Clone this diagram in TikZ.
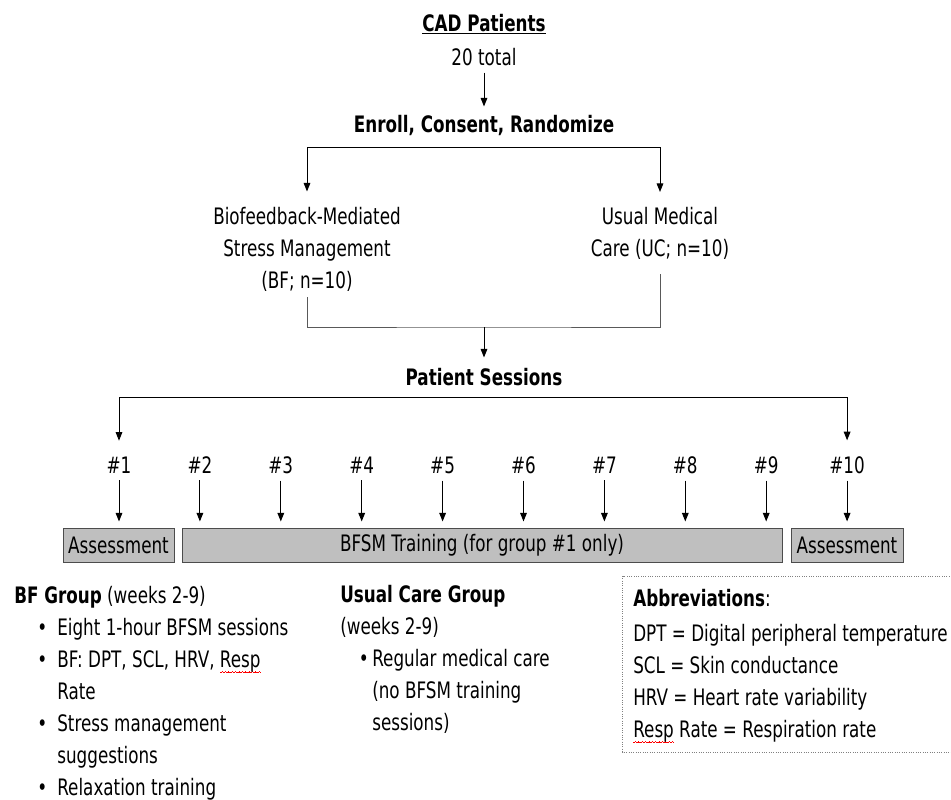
\documentclass[tikz,border=0pt]{standalone}
\usepackage{fontspec}
\setmainfont{DejaVu Sans}[FakeStretch=0.74]
\usetikzlibrary{arrows.meta}

% red wavy underline of the spell checker
\newlength\wavelen
\newcommand{\wavepiece}{\hbox{\rule[-1pt]{0.6pt}{0.5pt}\rule[-0.5pt]{0.6pt}{0.5pt}\rule[0pt]{0.6pt}{0.5pt}\rule[-0.5pt]{0.6pt}{0.5pt}}}
\newcommand{\spellwave}[1]{\settowidth{\wavelen}{#1}\rlap{\raisebox{-3.5pt}{\textcolor{red}{\hbox to\wavelen{\xleaders\wavepiece\hfill}}}}#1}
% bullet: #1 space before the dot, #2 width of the dot box
\newcommand{\bul}[2]{\hspace*{#1}\makebox[#2][l]{\textbullet}}

\begin{document}
\begin{tikzpicture}[x=0.75pt, y=-0.75pt,
  txt/.style={inner sep=0pt, font=\fontsize{17}{24}\selectfont},
  hd/.style={txt, font=\fontsize{17}{24}\selectfont\bfseries},
  arr/.style={line width=0.75pt, -{Triangle[length=6.5pt,width=5pt]}},
  link/.style={line width=0.75pt, draw=black!65},
  gbox/.style={txt, draw=black!70, fill=black!25, line width=0.75pt, minimum height=25.5pt},
  sess/.style={txt, inner ysep=5.25pt}]
\useasboundingbox (0,0) rectangle (951,800);

% top of the flow
\node[hd, anchor=base] (cad) at (484,31) {\underline{CAD Patients}};
\node[txt, anchor=base] (total) at (484,65) {20 total};
\node[hd, anchor=base] (enroll) at (484,132) {Enroll, Consent, Randomize};
\draw[arr, shorten <=5.25pt, shorten >=6pt] (total) -- (enroll);

% the two groups (base = last line)
\node[txt, anchor=base, align=center] (bf) at (307,288)
  {Biofeedback-Mediated\\Stress Management\\(BF; n=10)};
\node[txt, anchor=base, align=center] (uc) at (660,256.5)
  {Usual Medical\\Care (UC; n=10)};
\coordinate (split) at (484,147);
\draw[arr, shorten >=11.25pt] (split) -| (bf);
\draw[arr, shorten >=11.25pt] (split) -| (uc);

\node[hd, anchor=base] (sessions) at (484,385) {Patient Sessions};
\coordinate (merge) at (484,327);
\draw[link, shorten <=4.5pt, shorten >=10.9pt] (bf) |- (merge) -| (uc);
\draw[arr, shorten >=7.5pt] (merge) -- (sessions);

% sessions
\foreach \i in {1,...,10} {
  \pgfmathsetmacro\sx{119+(\i-1)*80.9}
  \node[sess, anchor=base] (s\i) at (\sx,473) {\#\i};
}
\coordinate (split2) at (484,397);
\draw[arr, shorten >=6.4pt] (split2) -| (s1);
\draw[arr, shorten >=6.4pt] (split2) -| (s10);

\node[gbox, minimum width=83.25pt] (assess1) at (118.5,545) {Assessment};
\node[gbox, minimum width=450pt] (train) at (482,545) {BFSM Training (for group \#1 only)};
\node[gbox, minimum width=84pt] (assess2) at (847,545) {Assessment};
\draw[arr, shorten >=4.5pt] (s1) -- (s1 |- assess1.north);
\foreach \i in {2,...,9}
  \draw[arr, shorten >=4.5pt] (s\i) -- (s\i |- train.north);
\draw[arr, shorten >=4.5pt] (s10) -- (s10 |- assess2.north);

% group notes (base = last line)
\node[txt, anchor=base west, align=left] (bfnote) at (14,795)
  {\textbf{BF Group} (weeks 2-9)\\
   \bul{17.3pt}{15pt}Eight 1-hour BFSM sessions\\
   \bul{17.3pt}{15pt}BF: DPT, SCL, HRV, \spellwave{Resp}\\
   \hspace*{32.3pt}Rate\\
   \bul{17.3pt}{15pt}Stress management\\
   \hspace*{32.3pt}suggestions\\
   \bul{17.3pt}{15pt}Relaxation training};
\node[txt, anchor=base west, align=left] (ucnote) at (340,730)
  {\textbf{Usual Care Group}\\
   (weeks 2-9)\\
   \bul{14pt}{10pt}Regular medical care\\
   \hspace*{24pt}(no BFSM training\\
   \hspace*{24pt}sessions)};

% abbreviations
\draw[gray, densely dotted, line width=0.75pt] (622.5,576) rectangle (960,752);
\node[txt, anchor=base west, align=left] (abbr) at (633,737)
  {\textbf{Abbreviations}:\\[2.25pt]
   DPT = Digital peripheral temperature\\
   SCL = Skin conductance\\
   HRV = Heart rate variability\\
   \spellwave{Resp} Rate = Respiration rate};
\end{tikzpicture}
\end{document}
